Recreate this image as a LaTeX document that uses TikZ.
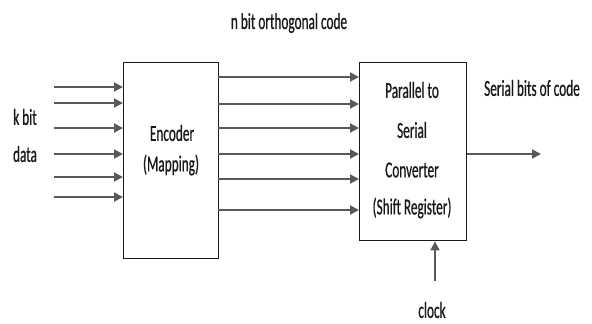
\documentclass[tikz,border=0pt]{standalone}
\usepackage{fontspec}
\setmainfont[FakeStretch=0.58,FakeBold=0.6]{Carlito}
\usetikzlibrary{arrows.meta}
\begin{document}
\begin{tikzpicture}[x=1bp,y=-1bp,
  blk/.style={draw=black!90,line width=1.4bp},
  sig/.style={draw=black!65,line width=1.9bp,-{Triangle[length=9bp,width=9bp]}},
  txt/.style={font=\fontsize{23}{26}\selectfont,text=black!90,inner sep=0pt}]
\useasboundingbox (0,0) rectangle (592,323);
% boxes
\node[blk,minimum width=95bp,minimum height=196bp,inner sep=0pt,anchor=north west] (enc) at (123,62) {};
\node[blk,minimum width=107bp,minimum height=178bp,inner sep=0pt,anchor=north west] (psc) at (359,62) {};
% encoder text
\node[txt] (t1) at (172,133) {Encoder};
\node[txt] (t2) at (171,165) {(Mapping)};
% converter text
\node[txt] (c1) at (412,90) {Parallel to};
\node[txt] (c2) at (412,130) {Serial};
\node[txt] (c3) at (412,170) {Converter};
\node[txt] (c4) at (412,208) {(Shift Register)};
% labels
\node[txt] (kb) at (25,117) {k bit};
\node[txt] (dt) at (25,154) {data};
\node[txt] (nb) at (289,23) {n bit orthogonal code};
\node[txt] (sb) at (532,88) {Serial bits of code};
\node[txt] (ck) at (432,310) {clock};
% input arrows
\foreach \y/\n in {87/1,103/2,128/3,154/4,177/5,197/6}{
  \coordinate (in\n) at (54,\y);
  \draw[sig] (in\n) -- (in\n -| enc.west);
}
% parallel arrows
\foreach \y/\n in {77/1,104/2,128/3,154/4,179/5,210/6}{
  \coordinate (p\n) at (218,\y);
  \draw[sig] (p\n) -- (p\n -| psc.west);
}
% output
\coordinate (out) at (541,154);
\draw[sig] (psc.east |- out) -- (out);
% clock
\coordinate (clk) at (435,281);
\draw[sig] (clk) -- (clk |- psc.south);
\end{tikzpicture}
\end{document}
